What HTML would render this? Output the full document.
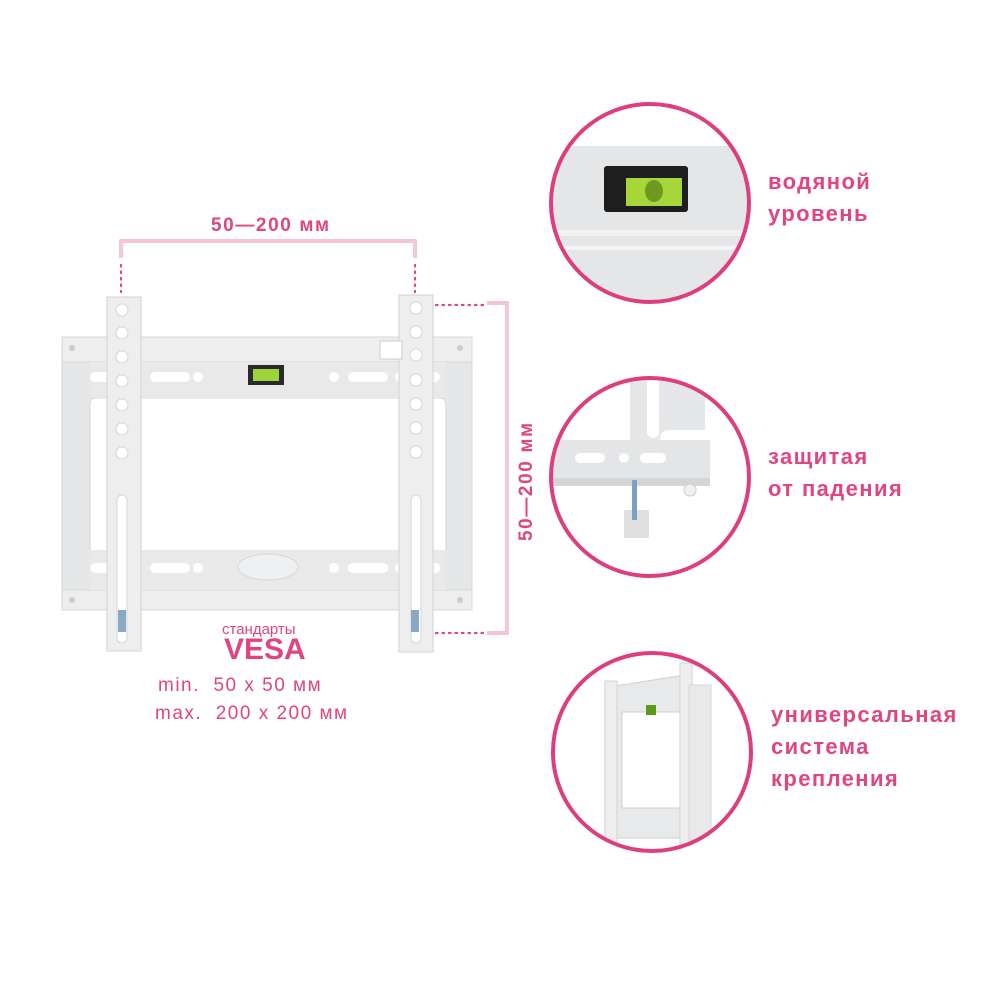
<!DOCTYPE html>
<html><head><meta charset="utf-8"><style>
html,body{margin:0;padding:0;background:#fff;}
.t{position:absolute;font-family:"Liberation Sans","DejaVu Sans",sans-serif;color:#e0457f;white-space:nowrap;}
.b{font-weight:bold;}
</style></head><body>
<div style="position:relative;width:1000px;height:1000px;overflow:hidden;">
<svg width="1000" height="1000" style="position:absolute;left:0;top:0">
<defs>
<clipPath id="c1"><circle cx="650" cy="203" r="98"/></clipPath>
<clipPath id="c2"><circle cx="650" cy="477" r="98"/></clipPath>
<clipPath id="c3"><circle cx="652" cy="752" r="98"/></clipPath>
</defs>
<g stroke="#eba3bf" fill="none" stroke-width="1.2">
<path d="M120 258 V240 H416 V258"/><path d="M122 258 V242 H414 V258"/>
<path d="M487 302 H508 V634 H487"/><path d="M487 304 H506 V632 H487"/>
</g>
<g stroke="#e0457f" stroke-width="2.2" stroke-dasharray="1.5 5" stroke-linecap="round">
<line x1="121" y1="265" x2="121" y2="292"/><line x1="415" y1="265" x2="415" y2="292"/>
<line x1="436" y1="305" x2="484" y2="305"/><line x1="436" y1="633" x2="484" y2="633"/>
</g>
<g>
<path d="M62 339 H472 V610 H62 Z M95 398 Q90 398 90 405 V548 Q90 555 97 555 H440 Q446 555 446 548 V405 Q446 398 440 398 Z" fill="#e6e7e8" fill-rule="evenodd" stroke="#d4d5d6"/>
<rect x="62" y="337" width="410" height="25" fill="#eeeeef" stroke="#d8d8d8"/>
<rect x="62" y="590" width="410" height="20" fill="#eeeeef" stroke="#d8d8d8"/>
<rect x="90" y="362" width="356" height="36" fill="#e9e9ea"/>
<rect x="90" y="550" width="356" height="40" fill="#e9e9ea"/>
<g fill="#fff">
<rect x="90" y="372" width="36" height="10" rx="5"/><rect x="150" y="372" width="40" height="10" rx="5"/><circle cx="198" cy="377" r="5"/>
<circle cx="334" cy="377" r="5"/><rect x="348" y="372" width="40" height="10" rx="5"/><rect x="395" y="372" width="45" height="10" rx="5"/>
<rect x="90" y="563" width="36" height="10" rx="5"/><rect x="150" y="563" width="40" height="10" rx="5"/><circle cx="198" cy="568" r="5"/>
<circle cx="334" cy="568" r="5"/><rect x="348" y="563" width="40" height="10" rx="5"/><rect x="395" y="563" width="45" height="10" rx="5"/>
</g>
<ellipse cx="268" cy="567" rx="30" ry="13" fill="#eff0f1" stroke="#d6d6d6"/>
<circle cx="72" cy="348" r="3" fill="#ccc"/><circle cx="460" cy="348" r="3" fill="#ccc"/>
<circle cx="72" cy="600" r="3" fill="#ccc"/><circle cx="460" cy="600" r="3" fill="#ccc"/>
<rect x="248" y="365" width="36" height="20" fill="#2a2a2a"/><rect x="253" y="369" width="26" height="12" fill="#9dd43a"/>
<rect x="107" y="297" width="34" height="354" fill="#eeeeef" stroke="#d2d2d2"/>
<rect x="399" y="295" width="34" height="357" fill="#eeeeef" stroke="#d2d2d2"/>
<g fill="#fff" stroke="#d6d6d6">
<circle cx="122" cy="310" r="6"/><circle cx="122" cy="333" r="6"/><circle cx="122" cy="357" r="6"/><circle cx="122" cy="381" r="6"/><circle cx="122" cy="405" r="6"/><circle cx="122" cy="429" r="6"/><circle cx="122" cy="453" r="6"/>
<circle cx="416" cy="308" r="6"/><circle cx="416" cy="332" r="6"/><circle cx="416" cy="355" r="6"/><circle cx="416" cy="380" r="6"/><circle cx="416" cy="404" r="6"/><circle cx="416" cy="428" r="6"/><circle cx="416" cy="452" r="6"/>
<rect x="117" y="495" width="10" height="148" rx="5"/><rect x="411" y="495" width="10" height="148" rx="5"/>
</g>
<rect x="118" y="610" width="8" height="22" fill="#8aa9c6"/><rect x="411" y="610" width="8" height="22" fill="#8aa9c6"/>
<rect x="380" y="341" width="22" height="18" fill="#fff" stroke="#ccc"/>
</g>
<g clip-path="url(#c1)">
<rect x="550" y="100" width="200" height="210" fill="#fff"/>
<rect x="550" y="146" width="200" height="164" fill="#e5e6e7"/>
<rect x="550" y="230" width="200" height="6" fill="#f2f2f2"/>
<rect x="550" y="246" width="200" height="4" fill="#f4f4f4"/>
<rect x="604" y="166" width="84" height="46" rx="3" fill="#1e1e1e"/>
<rect x="626" y="178" width="56" height="28" fill="#a6d63a"/>
<ellipse cx="654" cy="191" rx="9" ry="11" fill="#6a9a1e"/>
</g>
<circle cx="650" cy="203" r="99" fill="none" stroke="#dd3e7e" stroke-width="4"/>
<g clip-path="url(#c2)">
<rect x="550" y="375" width="200" height="205" fill="#fff"/>
<path d="M630 375 H705 V430 H670 Q660 430 660 440 V445 H630 Z" fill="#e6e7e8"/>
<rect x="647" y="378" width="12" height="60" rx="6" fill="#fff"/>
<rect x="550" y="440" width="160" height="46" fill="#e4e5e6"/>
<rect x="550" y="478" width="160" height="8" fill="#d4d5d6"/>
<g fill="#fff"><rect x="575" y="453" width="30" height="10" rx="5"/><circle cx="624" cy="458" r="5"/><rect x="640" y="453" width="26" height="10" rx="5"/></g>
<circle cx="690" cy="490" r="6" fill="#f0f0f0" stroke="#ccc"/>
<rect x="624" y="510" width="25" height="28" fill="#e0e0e0"/>
<rect x="632" y="480" width="5" height="40" fill="#7c9fc4"/>
</g>
<circle cx="650" cy="477" r="99" fill="none" stroke="#dd3e7e" stroke-width="4"/>
<g clip-path="url(#c3)">
<rect x="550" y="650" width="205" height="205" fill="#fff"/>
<path d="M615 686 L685 675 V838 H612 Z M622 712 V808 H680 V712 Z" fill="#e8e9ea" fill-rule="evenodd" stroke="#d0d0d0"/>
<rect x="605" y="681" width="12" height="170" fill="#eeeeef" stroke="#d2d2d2"/>
<rect x="680" y="663" width="12" height="190" fill="#eeeeef" stroke="#d2d2d2"/>
<rect x="689" y="685" width="22" height="155" fill="#e9e9ea" stroke="#d6d6d6"/>
<rect x="646" y="705" width="10" height="10" fill="#5c9a1a"/>
</g>
<circle cx="652" cy="752" r="99" fill="none" stroke="#dd3e7e" stroke-width="4"/>
</svg>
<div class="t b" style="left:211px;top:215px;font-size:19px;letter-spacing:1.6px;">50—200 мм</div>
<div class="t b" style="left:516px;top:541px;font-size:19px;letter-spacing:1.6px;transform:rotate(-90deg);transform-origin:0 0;">50—200 мм</div>
<div class="t" style="left:222px;top:621px;font-size:15px;">стандарты</div>
<div class="t b" style="left:224px;top:633px;font-size:30px;">VESA</div>
<div class="t" style="left:158px;top:675px;font-size:19px;letter-spacing:1.5px;">min.&nbsp; 50 х 50 мм</div>
<div class="t" style="left:155px;top:703px;font-size:19px;letter-spacing:1.5px;">max.&nbsp; 200 х 200 мм</div>
<div class="t b" style="left:768px;top:166px;font-size:22px;line-height:32px;letter-spacing:1.4px;">водяной<br>уровень</div>
<div class="t b" style="left:768px;top:441px;font-size:22px;line-height:32px;letter-spacing:1.4px;">защитая<br>от падения</div>
<div class="t b" style="left:771px;top:699px;font-size:22px;line-height:32px;letter-spacing:1.4px;">универсальная<br>система<br>крепления</div>
</div>
</body></html>
